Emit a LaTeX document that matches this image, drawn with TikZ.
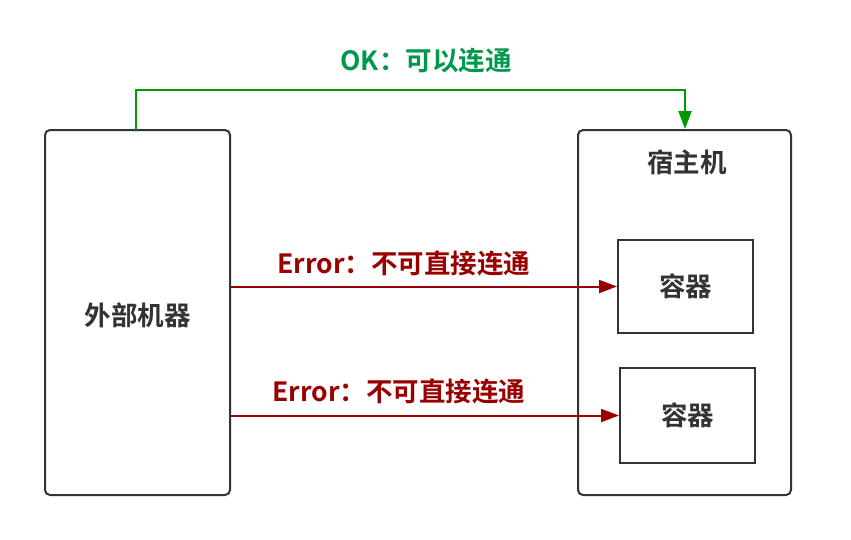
\documentclass[tikz,border=0pt]{standalone}
\usepackage{fontspec}
\setmainfont{Noto Sans CJK SC}[BoldFont={Noto Sans CJK SC Bold}]
\usepackage{tikz}
\usetikzlibrary{arrows.meta,positioning}
\definecolor{boxgray}{HTML}{333333}
\definecolor{okgreen}{HTML}{009900}
\definecolor{oktext}{HTML}{00994C}
\definecolor{errred}{HTML}{990000}

\begin{document}
\begin{tikzpicture}[x=1pt,y=-1pt]
        \tikzstyle{every node}+=[inner sep=0pt,font=\bfseries\fontsize{26.5}{30}\selectfont]
        \tikzstyle{machine}=[draw=boxgray,line width=2pt,rounded corners=5pt]
        \tikzstyle{cont}=[draw=boxgray,line width=2pt,minimum width=135pt]
        \tikzstyle{link}=[line width=2pt,-{Triangle[length=18pt,width=13pt]}]
        \useasboundingbox (0,0) rectangle (851,539);
        \node [machine,minimum width=185pt,minimum height=365pt] (ext) at (137.5,312.5) {};
        \node [text=boxgray] (extlabel) at (137.5,315) {外部机器};
        \node [machine,minimum width=213pt,minimum height=365pt] (host) at (684.5,312.5) {};
        \node [text=boxgray] (hostlabel) at (687,162) {宿主机};
        \node [cont,minimum height=93pt] (c1) at (685.5,286.5) {};
        \node [text=boxgray] (c1label) at (c1) {容器};
        \node [cont,minimum height=95pt] (c2) at (687.5,415.5) {};
        \node [text=boxgray] (c2label) at (c2) {容器};
        % OK path
        \coordinate (okstart) at (136,130);
        \draw [okgreen,link]
          (okstart) |- (685,90) coordinate (okcorner) -- (host.north -| okcorner);
        \node [text=oktext] (oklabel) at (426,61) {OK：可以连通};
        % Error paths
        \draw [errred,link] (ext.east |- c1) -- (c1.west);
        \node [text=errred] (err1) at (404,264) {Error：不可直接连通};
        \draw [errred,link] (ext.east |- c2) -- (c2.west);
        \node [text=errred] (err2) at (399,391) {Error：不可直接连通};
      \end{tikzpicture}
\end{document}
